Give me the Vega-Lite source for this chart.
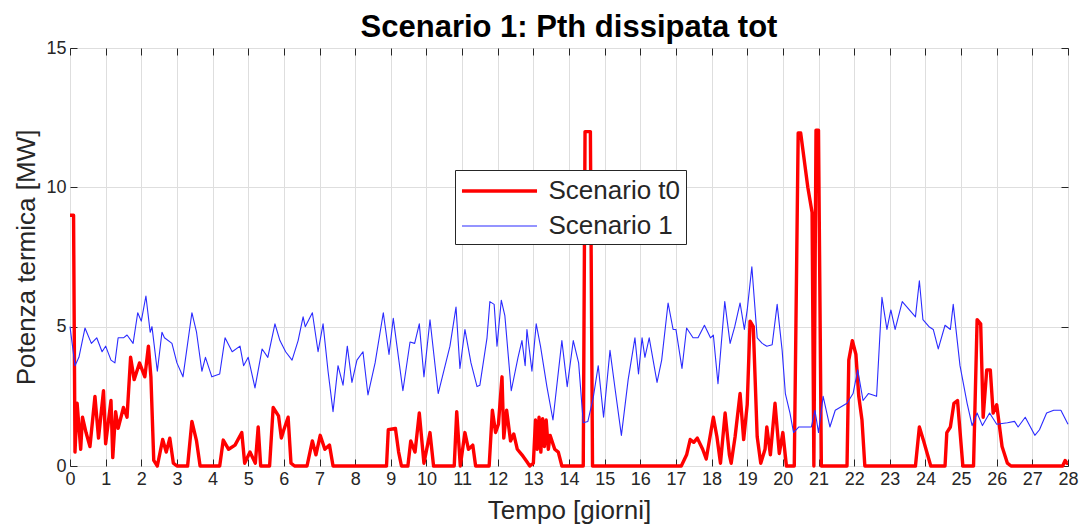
{
  "$schema": "https://vega.github.io/schema/vega-lite/v6.json",
  "width": 998,
  "height": 418,
  "autosize": {"type": "none"},
  "padding": {"left": 70, "top": 48, "right": 17, "bottom": 64},
  "background": "white",
  "title": {"text": "Scenario 1: Pth dissipata tot", "fontSize": 31, "fontWeight": "bold", "font": "Liberation Sans", "color": "#000000", "offset": 3, "dy": 8},
  "config": {
    "view": {"stroke": "#262626", "strokeWidth": 1},
    "axis": {
      "labelFont": "Liberation Sans", "labelFontSize": 18, "labelColor": "#262626",
      "titleFont": "Liberation Sans", "titleFontSize": 26, "titleFontWeight": "normal", "titleColor": "#262626",
      "gridColor": "#dedede", "gridWidth": 1, "tickColor": "#262626", "tickSize": -7, "domain": false
    }
  },
  "data": {"values": [
    {"s":"t0","d":0,"v":9.0},{"s":"t0","d":0.1,"v":9.0},{"s":"t0","d":0.14,"v":0.5},{"s":"t0","d":0.2,"v":2.25},{"s":"t0","d":0.3,"v":0.6},{"s":"t0","d":0.35,"v":1.75},{"s":"t0","d":0.45,"v":1.2},{"s":"t0","d":0.56,"v":0.7},{"s":"t0","d":0.7,"v":2.5},{"s":"t0","d":0.8,"v":1.0},{"s":"t0","d":0.94,"v":2.7},{"s":"t0","d":1.0,"v":0.8},{"s":"t0","d":1.15,"v":2.35},{"s":"t0","d":1.2,"v":0.3},{"s":"t0","d":1.28,"v":1.95},{"s":"t0","d":1.35,"v":1.35},{"s":"t0","d":1.5,"v":2.1},{"s":"t0","d":1.6,"v":1.75},{"s":"t0","d":1.7,"v":3.9},{"s":"t0","d":1.8,"v":3.1},{"s":"t0","d":1.95,"v":3.7},{"s":"t0","d":2.1,"v":3.2},{"s":"t0","d":2.2,"v":4.3},{"s":"t0","d":2.27,"v":3.2},{"s":"t0","d":2.35,"v":0.2},{"s":"t0","d":2.45,"v":0},{"s":"t0","d":2.6,"v":0.95},{"s":"t0","d":2.7,"v":0.5},{"s":"t0","d":2.8,"v":1.0},{"s":"t0","d":2.9,"v":0.1},{"s":"t0","d":3.0,"v":0},{"s":"t0","d":3.3,"v":0},{"s":"t0","d":3.42,"v":1.6},{"s":"t0","d":3.55,"v":0.9},{"s":"t0","d":3.65,"v":0},{"s":"t0","d":4.2,"v":0},{"s":"t0","d":4.3,"v":0.93},{"s":"t0","d":4.45,"v":0.6},{"s":"t0","d":4.63,"v":0.75},{"s":"t0","d":4.82,"v":1.2},{"s":"t0","d":4.9,"v":0.1},{"s":"t0","d":5.05,"v":0.5},{"s":"t0","d":5.2,"v":0.1},{"s":"t0","d":5.28,"v":1.4},{"s":"t0","d":5.35,"v":0},{"s":"t0","d":5.6,"v":0},{"s":"t0","d":5.7,"v":2.1},{"s":"t0","d":5.85,"v":1.8},{"s":"t0","d":5.93,"v":1.0},{"s":"t0","d":6.0,"v":1.3},{"s":"t0","d":6.12,"v":1.75},{"s":"t0","d":6.2,"v":0.1},{"s":"t0","d":6.3,"v":0},{"s":"t0","d":6.65,"v":0},{"s":"t0","d":6.8,"v":0.9},{"s":"t0","d":6.9,"v":0.4},{"s":"t0","d":7.02,"v":1.1},{"s":"t0","d":7.15,"v":0.6},{"s":"t0","d":7.28,"v":0.75},{"s":"t0","d":7.38,"v":0},{"s":"t0","d":8.88,"v":0},{"s":"t0","d":8.93,"v":1.3},{"s":"t0","d":9.13,"v":1.35},{"s":"t0","d":9.22,"v":0.5},{"s":"t0","d":9.3,"v":0},{"s":"t0","d":9.48,"v":0},{"s":"t0","d":9.56,"v":0.9},{"s":"t0","d":9.68,"v":0.5},{"s":"t0","d":9.8,"v":1.9},{"s":"t0","d":9.93,"v":0.1},{"s":"t0","d":10.1,"v":1.2},{"s":"t0","d":10.2,"v":0},{"s":"t0","d":10.78,"v":0},{"s":"t0","d":10.85,"v":1.95},{"s":"t0","d":10.95,"v":0},{"s":"t0","d":11.08,"v":1.2},{"s":"t0","d":11.18,"v":0.6},{"s":"t0","d":11.3,"v":0.75},{"s":"t0","d":11.38,"v":0},{"s":"t0","d":11.76,"v":0},{"s":"t0","d":11.85,"v":2.0},{"s":"t0","d":11.94,"v":1.2},{"s":"t0","d":12.02,"v":1.5},{"s":"t0","d":12.12,"v":3.2},{"s":"t0","d":12.17,"v":1.0},{"s":"t0","d":12.25,"v":2.0},{"s":"t0","d":12.36,"v":0.9},{"s":"t0","d":12.45,"v":1.15},{"s":"t0","d":12.55,"v":0.6},{"s":"t0","d":12.68,"v":0.4},{"s":"t0","d":12.82,"v":0.15},{"s":"t0","d":12.9,"v":0},{"s":"t0","d":13.0,"v":0.1},{"s":"t0","d":13.06,"v":1.65},{"s":"t0","d":13.11,"v":0.6},{"s":"t0","d":13.16,"v":1.75},{"s":"t0","d":13.21,"v":0.5},{"s":"t0","d":13.26,"v":1.7},{"s":"t0","d":13.31,"v":0.7},{"s":"t0","d":13.36,"v":1.65},{"s":"t0","d":13.42,"v":0.6},{"s":"t0","d":13.47,"v":1.1},{"s":"t0","d":13.6,"v":0.6},{"s":"t0","d":13.7,"v":0.5},{"s":"t0","d":13.8,"v":0},{"s":"t0","d":14.4,"v":0},{"s":"t0","d":14.45,"v":12},{"s":"t0","d":14.6,"v":12},{"s":"t0","d":14.66,"v":0},{"s":"t0","d":17.15,"v":0},{"s":"t0","d":17.3,"v":0.4},{"s":"t0","d":17.4,"v":0.95},{"s":"t0","d":17.5,"v":0.85},{"s":"t0","d":17.6,"v":1.0},{"s":"t0","d":17.75,"v":0.6},{"s":"t0","d":17.85,"v":0.25},{"s":"t0","d":18.05,"v":1.75},{"s":"t0","d":18.15,"v":1.05},{"s":"t0","d":18.25,"v":0.1},{"s":"t0","d":18.38,"v":1.9},{"s":"t0","d":18.5,"v":0.4},{"s":"t0","d":18.55,"v":0.1},{"s":"t0","d":18.66,"v":1.05},{"s":"t0","d":18.8,"v":2.6},{"s":"t0","d":18.9,"v":0.95},{"s":"t0","d":19.0,"v":2.2},{"s":"t0","d":19.08,"v":5.2},{"s":"t0","d":19.17,"v":5.0},{"s":"t0","d":19.28,"v":1.05},{"s":"t0","d":19.38,"v":0.1},{"s":"t0","d":19.5,"v":0.6},{"s":"t0","d":19.55,"v":1.4},{"s":"t0","d":19.65,"v":0.4},{"s":"t0","d":19.78,"v":2.25},{"s":"t0","d":19.9,"v":0.45},{"s":"t0","d":20.0,"v":1.2},{"s":"t0","d":20.1,"v":0},{"s":"t0","d":20.32,"v":0},{"s":"t0","d":20.43,"v":11.95},{"s":"t0","d":20.5,"v":11.95},{"s":"t0","d":20.7,"v":10.0},{"s":"t0","d":20.82,"v":9.1},{"s":"t0","d":20.87,"v":0},{"s":"t0","d":20.93,"v":12.05},{"s":"t0","d":21.0,"v":12.05},{"s":"t0","d":21.08,"v":0},{"s":"t0","d":21.8,"v":0},{"s":"t0","d":21.85,"v":3.8},{"s":"t0","d":21.95,"v":4.5},{"s":"t0","d":22.05,"v":4.0},{"s":"t0","d":22.13,"v":2.5},{"s":"t0","d":22.22,"v":1.65},{"s":"t0","d":22.3,"v":0},{"s":"t0","d":23.72,"v":0},{"s":"t0","d":23.83,"v":1.4},{"s":"t0","d":23.95,"v":0.9},{"s":"t0","d":24.05,"v":0.45},{"s":"t0","d":24.15,"v":0},{"s":"t0","d":24.55,"v":0},{"s":"t0","d":24.6,"v":1.2},{"s":"t0","d":24.7,"v":1.4},{"s":"t0","d":24.8,"v":2.25},{"s":"t0","d":24.9,"v":2.35},{"s":"t0","d":25.05,"v":0},{"s":"t0","d":25.35,"v":0},{"s":"t0","d":25.45,"v":5.25},{"s":"t0","d":25.55,"v":5.1},{"s":"t0","d":25.62,"v":1.75},{"s":"t0","d":25.72,"v":3.45},{"s":"t0","d":25.82,"v":3.45},{"s":"t0","d":25.9,"v":1.9},{"s":"t0","d":26.0,"v":2.2},{"s":"t0","d":26.15,"v":0.7},{"s":"t0","d":26.3,"v":0.1},{"s":"t0","d":26.4,"v":0},{"s":"t0","d":27.85,"v":0},{"s":"t0","d":27.92,"v":0.2},{"s":"t0","d":27.97,"v":0.1},{"s":"t0","d":28,"v":0.1},
    {"s":"1","d":0,"v":5.0},{"s":"1","d":0.14,"v":3.6},{"s":"1","d":0.25,"v":3.9},{"s":"1","d":0.42,"v":4.95},{"s":"1","d":0.6,"v":4.4},{"s":"1","d":0.75,"v":4.6},{"s":"1","d":0.9,"v":4.1},{"s":"1","d":1.0,"v":4.3},{"s":"1","d":1.15,"v":3.8},{"s":"1","d":1.26,"v":3.7},{"s":"1","d":1.35,"v":4.6},{"s":"1","d":1.5,"v":4.6},{"s":"1","d":1.6,"v":4.7},{"s":"1","d":1.77,"v":4.4},{"s":"1","d":1.9,"v":5.5},{"s":"1","d":2.0,"v":5.2},{"s":"1","d":2.13,"v":6.1},{"s":"1","d":2.25,"v":4.8},{"s":"1","d":2.3,"v":5.0},{"s":"1","d":2.45,"v":3.4},{"s":"1","d":2.58,"v":4.8},{"s":"1","d":2.65,"v":4.6},{"s":"1","d":2.86,"v":4.4},{"s":"1","d":3.0,"v":3.7},{"s":"1","d":3.17,"v":3.2},{"s":"1","d":3.42,"v":5.5},{"s":"1","d":3.55,"v":4.8},{"s":"1","d":3.7,"v":3.4},{"s":"1","d":3.8,"v":3.9},{"s":"1","d":3.98,"v":3.2},{"s":"1","d":4.2,"v":3.3},{"s":"1","d":4.35,"v":4.6},{"s":"1","d":4.55,"v":4.1},{"s":"1","d":4.77,"v":4.3},{"s":"1","d":4.87,"v":3.6},{"s":"1","d":5.0,"v":3.9},{"s":"1","d":5.19,"v":2.8},{"s":"1","d":5.39,"v":4.2},{"s":"1","d":5.55,"v":3.9},{"s":"1","d":5.75,"v":5.1},{"s":"1","d":5.89,"v":4.5},{"s":"1","d":6.05,"v":4.1},{"s":"1","d":6.23,"v":3.8},{"s":"1","d":6.4,"v":4.5},{"s":"1","d":6.54,"v":5.35},{"s":"1","d":6.6,"v":5.0},{"s":"1","d":6.8,"v":5.5},{"s":"1","d":6.96,"v":4.1},{"s":"1","d":7.1,"v":5.1},{"s":"1","d":7.24,"v":3.4},{"s":"1","d":7.38,"v":1.95},{"s":"1","d":7.52,"v":3.6},{"s":"1","d":7.66,"v":2.9},{"s":"1","d":7.78,"v":4.3},{"s":"1","d":7.91,"v":3.0},{"s":"1","d":8.05,"v":3.8},{"s":"1","d":8.22,"v":4.1},{"s":"1","d":8.36,"v":2.55},{"s":"1","d":8.56,"v":3.7},{"s":"1","d":8.79,"v":5.5},{"s":"1","d":8.95,"v":4.0},{"s":"1","d":9.07,"v":5.3},{"s":"1","d":9.34,"v":2.7},{"s":"1","d":9.54,"v":4.45},{"s":"1","d":9.67,"v":4.4},{"s":"1","d":9.8,"v":5.1},{"s":"1","d":9.93,"v":3.2},{"s":"1","d":10.1,"v":5.25},{"s":"1","d":10.33,"v":2.6},{"s":"1","d":10.66,"v":4.3},{"s":"1","d":10.83,"v":5.7},{"s":"1","d":10.94,"v":3.5},{"s":"1","d":11.08,"v":4.9},{"s":"1","d":11.25,"v":3.7},{"s":"1","d":11.42,"v":2.85},{"s":"1","d":11.5,"v":2.9},{"s":"1","d":11.7,"v":4.6},{"s":"1","d":11.78,"v":5.9},{"s":"1","d":11.9,"v":5.8},{"s":"1","d":11.98,"v":4.3},{"s":"1","d":12.1,"v":5.95},{"s":"1","d":12.2,"v":5.4},{"s":"1","d":12.38,"v":2.7},{"s":"1","d":12.57,"v":3.9},{"s":"1","d":12.68,"v":4.5},{"s":"1","d":12.77,"v":3.6},{"s":"1","d":12.82,"v":4.9},{"s":"1","d":12.96,"v":3.4},{"s":"1","d":13.08,"v":5.1},{"s":"1","d":13.2,"v":4.3},{"s":"1","d":13.38,"v":2.85},{"s":"1","d":13.55,"v":1.65},{"s":"1","d":13.8,"v":4.5},{"s":"1","d":13.95,"v":2.85},{"s":"1","d":14.12,"v":4.5},{"s":"1","d":14.27,"v":3.7},{"s":"1","d":14.4,"v":1.55},{"s":"1","d":14.53,"v":1.6},{"s":"1","d":14.68,"v":2.45},{"s":"1","d":14.82,"v":3.6},{"s":"1","d":14.97,"v":1.75},{"s":"1","d":15.15,"v":4.15},{"s":"1","d":15.3,"v":2.7},{"s":"1","d":15.47,"v":1.1},{"s":"1","d":15.66,"v":3.1},{"s":"1","d":15.85,"v":4.6},{"s":"1","d":15.95,"v":3.3},{"s":"1","d":16.05,"v":4.6},{"s":"1","d":16.13,"v":3.9},{"s":"1","d":16.25,"v":4.6},{"s":"1","d":16.47,"v":3.0},{"s":"1","d":16.6,"v":3.8},{"s":"1","d":16.78,"v":5.85},{"s":"1","d":16.92,"v":4.9},{"s":"1","d":17.0,"v":4.9},{"s":"1","d":17.17,"v":3.5},{"s":"1","d":17.3,"v":4.95},{"s":"1","d":17.48,"v":4.6},{"s":"1","d":17.62,"v":4.6},{"s":"1","d":17.8,"v":5.05},{"s":"1","d":17.97,"v":4.6},{"s":"1","d":18.05,"v":4.7},{"s":"1","d":18.18,"v":2.95},{"s":"1","d":18.37,"v":5.9},{"s":"1","d":18.52,"v":4.4},{"s":"1","d":18.65,"v":5.0},{"s":"1","d":18.8,"v":5.85},{"s":"1","d":18.92,"v":4.9},{"s":"1","d":19.0,"v":5.6},{"s":"1","d":19.13,"v":7.15},{"s":"1","d":19.28,"v":4.6},{"s":"1","d":19.42,"v":4.4},{"s":"1","d":19.55,"v":4.3},{"s":"1","d":19.7,"v":4.35},{"s":"1","d":19.84,"v":5.8},{"s":"1","d":19.98,"v":4.15},{"s":"1","d":20.07,"v":2.6},{"s":"1","d":20.2,"v":1.9},{"s":"1","d":20.3,"v":1.2},{"s":"1","d":20.45,"v":1.4},{"s":"1","d":20.62,"v":1.4},{"s":"1","d":20.8,"v":1.4},{"s":"1","d":20.9,"v":2.0},{"s":"1","d":21.0,"v":1.2},{"s":"1","d":21.13,"v":2.5},{"s":"1","d":21.32,"v":1.4},{"s":"1","d":21.47,"v":2.0},{"s":"1","d":21.6,"v":2.1},{"s":"1","d":21.8,"v":2.25},{"s":"1","d":21.97,"v":2.6},{"s":"1","d":22.1,"v":3.45},{"s":"1","d":22.25,"v":2.35},{"s":"1","d":22.4,"v":2.6},{"s":"1","d":22.63,"v":2.5},{"s":"1","d":22.78,"v":6.05},{"s":"1","d":22.92,"v":4.9},{"s":"1","d":23.03,"v":5.6},{"s":"1","d":23.15,"v":4.9},{"s":"1","d":23.35,"v":5.9},{"s":"1","d":23.55,"v":5.6},{"s":"1","d":23.72,"v":5.35},{"s":"1","d":23.83,"v":6.65},{"s":"1","d":23.93,"v":5.25},{"s":"1","d":24.1,"v":5.0},{"s":"1","d":24.22,"v":4.9},{"s":"1","d":24.36,"v":4.2},{"s":"1","d":24.55,"v":5.05},{"s":"1","d":24.7,"v":4.9},{"s":"1","d":24.78,"v":5.8},{"s":"1","d":24.97,"v":3.6},{"s":"1","d":25.17,"v":2.25},{"s":"1","d":25.31,"v":1.45},{"s":"1","d":25.45,"v":1.9},{"s":"1","d":25.6,"v":1.45},{"s":"1","d":25.8,"v":1.9},{"s":"1","d":26.0,"v":1.5},{"s":"1","d":26.3,"v":1.55},{"s":"1","d":26.5,"v":1.6},{"s":"1","d":26.6,"v":1.4},{"s":"1","d":26.8,"v":1.75},{"s":"1","d":27.07,"v":1.1},{"s":"1","d":27.2,"v":1.3},{"s":"1","d":27.4,"v":1.9},{"s":"1","d":27.6,"v":2.0},{"s":"1","d":27.8,"v":2.0},{"s":"1","d":28.0,"v":1.5}
  ]},
  "layer": [
    {
      "mark": {"type": "line", "strokeJoin": "round"},
      "encoding": {
        "x": {"field": "d", "type": "quantitative", "scale": {"domain": [0, 28], "nice": false, "zero": false},
              "axis": {"values": [0,1,2,3,4,5,6,7,8,9,10,11,12,13,14,15,16,17,18,19,20,21,22,23,24,25,26,27,28], "title": "Tempo [giorni]", "grid": true, "labelPadding": 11, "titlePadding": 9, "labelFlush": false}},
        "y": {"field": "v", "type": "quantitative", "scale": {"domain": [0, 15], "nice": false},
              "axis": {"values": [0, 5, 10, 15], "title": "Potenza termica [MW]", "grid": true, "labelPadding": 11, "titlePadding": 6}},
        "color": {"field": "s", "type": "nominal", "scale": {"domain": ["t0", "1"], "range": ["#ff0000", "#2b2bff"]},
                  "legend": {"orient": "none", "legendX": 385, "legendY": 122, "title": null, "fillColor": "white", "strokeColor": "#262626", "padding": 5, "symbolType": "M-2.68,0H2.68", "symbolSize": 784, "symbolOffset": 23.5, "labelFontSize": 26, "labelFont": "Liberation Sans", "labelColor": "#262626", "rowPadding": 7, "labelOffset": 33, "labelExpr": "'Scenario ' + datum.label"}},
        "strokeWidth": {"field": "s", "type": "nominal", "scale": {"domain": ["t0", "1"], "range": [3.4, 1.1]},
                  "legend": {"orient": "none", "legendX": 385, "legendY": 122, "title": null, "fillColor": "white", "strokeColor": "#262626", "padding": 5, "symbolType": "M-2.68,0H2.68", "symbolSize": 784, "symbolOffset": 23.5, "labelFontSize": 26, "labelFont": "Liberation Sans", "labelColor": "#262626", "rowPadding": 7, "labelOffset": 33, "labelExpr": "'Scenario ' + datum.label"}}
      }
    },
    {
      "mark": {"type": "line", "strokeOpacity": 0},
      "encoding": {
        "x": {"field": "d", "type": "quantitative", "axis": {"orient": "top", "values": [0,1,2,3,4,5,6,7,8,9,10,11,12,13,14,15,16,17,18,19,20,21,22,23,24,25,26,27,28], "labels": false, "title": null, "grid": false}},
        "y": {"field": "v", "type": "quantitative", "axis": {"orient": "right", "values": [0, 5, 10, 15], "labels": false, "title": null, "grid": false}},
        "detail": {"field": "s"}
      }
    }
  ],
  "resolve": {"axis": {"x": "independent", "y": "independent"}}
}
